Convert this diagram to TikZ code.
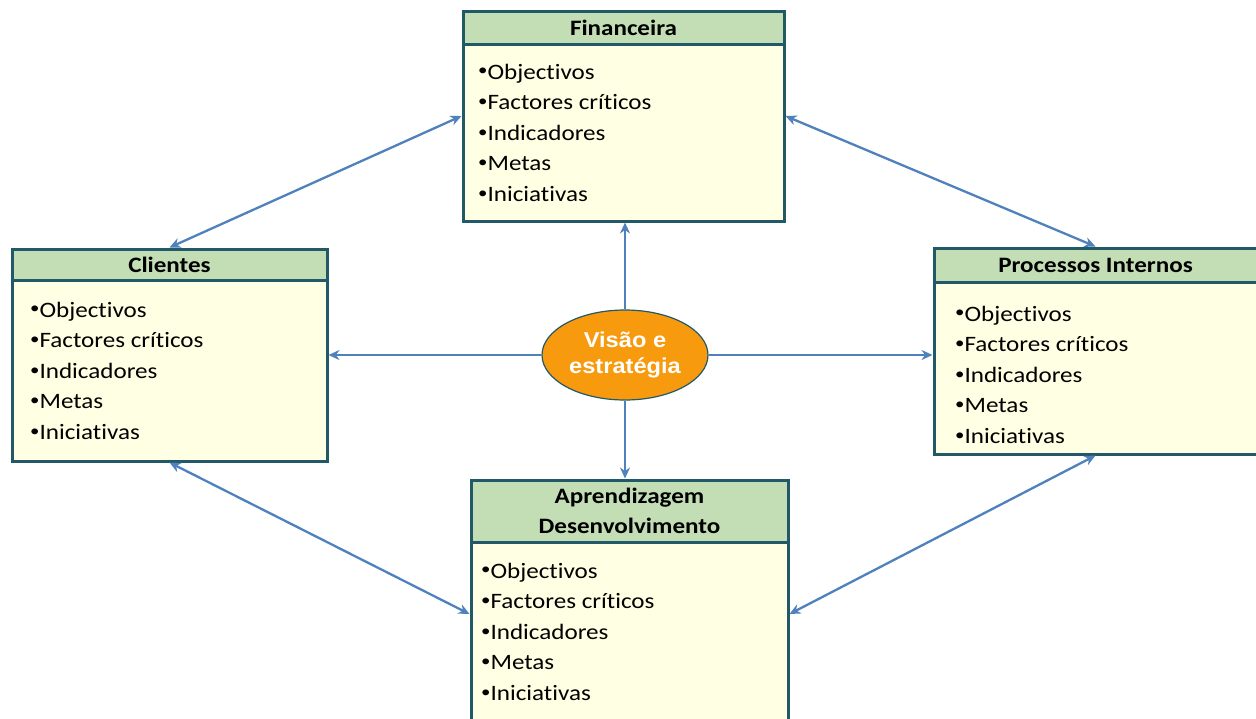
\documentclass[tikz,border=0pt]{standalone}
\usepackage{fontspec}
\setmainfont{Carlito}[FakeStretch=1.14,Ligatures={NoCommon}]
\newfontfamily\arialfont{Liberation Sans}[FakeStretch=1.1]
\usetikzlibrary{shapes.geometric,arrows.meta}
\definecolor{edge}{HTML}{215968}
\definecolor{hdr}{HTML}{C3DDB4}
\definecolor{bodyc}{HTML}{FFFFE3}
\definecolor{arr}{HTML}{4F81BD}
\definecolor{orng}{HTML}{F79A0E}
\newcommand{\bul}{\raisebox{0.3ex}{\scalebox{0.75}{•}}}
\begin{document}
\begin{tikzpicture}[x=1pt,y=-1pt,
 box/.style={draw=edge, line width=3pt, fill=bodyc, inner sep=0pt},
 head/.style={draw=edge, line width=3pt, fill=hdr, font=\fontsize{22}{30}\selectfont\bfseries, align=center, inner sep=0pt},
 item/.style={anchor=base west, inner sep=0pt, font=\fontsize{22}{26}\selectfont},
 link/.style={draw=arr, line width=2.3pt, {Stealth[length=11pt,width=10pt]}-{Stealth[length=11pt,width=10pt]}},
 oneway/.style={draw=arr, line width=2.3pt, -{Stealth[length=11pt,width=10pt]}},
 vis/.style={ellipse, draw=edge, line width=1.2pt, fill=orng, minimum width=166, minimum height=90, font=\arialfont\bfseries\fontsize{21.5}{26}\selectfont, text=white, align=center, inner sep=0pt}
]
\useasboundingbox (0,0) rectangle (1256,718);
\fill[white] (0,0) rectangle (1256,718);

% Financeira
\node[box, minimum width=321, minimum height=210] (fin) at (623.5,116) {};
\node[head, minimum width=321, minimum height=33] (finh) at (623.5,27.5) {Financeira};
\foreach \t [count=\i] in {Objectivos,Factores críticos,Indicadores,Metas,Iniciativas}
  \node[item] (fin\i) at (478,{48.4+30.6*\i}) {\bul\t};

% Clientes
\node[box, minimum width=315, minimum height=212] (cli) at (169.5,355) {};
\node[head, minimum width=315, minimum height=31] (clih) at (169.5,264.5) {Clientes};
\foreach \t [count=\i] in {Objectivos,Factores críticos,Indicadores,Metas,Iniciativas}
  \node[item] (cli\i) at (30,{286.4+30.6*\i}) {\bul\t};

% Processos Internos
\node[box, minimum width=323, minimum height=206] (pro) at (1095.5,351) {};
\node[head, minimum width=323, minimum height=34] (proh) at (1095.5,265) {Processos Internos};
\foreach \t [count=\i] in {Objectivos,Factores críticos,Indicadores,Metas,Iniciativas}
  \node[item] (pro\i) at (955,{290.4+30.6*\i}) {\bul\t};

% Aprendizagem
\node[box, minimum width=317, minimum height=268] (apr) at (629.5,614) {};
\node[head, minimum width=317, minimum height=62] (aprh) at (629.5,511) {Aprendizagem\\Desenvolvimento};
\foreach \t [count=\i] in {Objectivos,Factores críticos,Indicadores,Metas,Iniciativas}
  \node[item] (apr\i) at (481,{547.4+30.6*\i}) {\bul\t};

% Vision
\node[vis] (vis) at (625,355) {Visão e\\estratégia};

% connectors
\draw[link] (fin.west) -- (cli.north);
\draw[link] (fin.east) -- (pro.north);
\draw[link] (cli.south) -- (apr.west);
\draw[link] (pro.south) -- (apr.east);
\draw[oneway] (vis.north) -- (vis.north |- fin.south);
\draw[oneway] (vis.south) -- (vis.south |- apr.north);
\draw[oneway] (vis.west) -- (vis.west -| cli.east);
\draw[oneway] (vis.east) -- (vis.east -| pro.west);
\end{tikzpicture}
\end{document}
